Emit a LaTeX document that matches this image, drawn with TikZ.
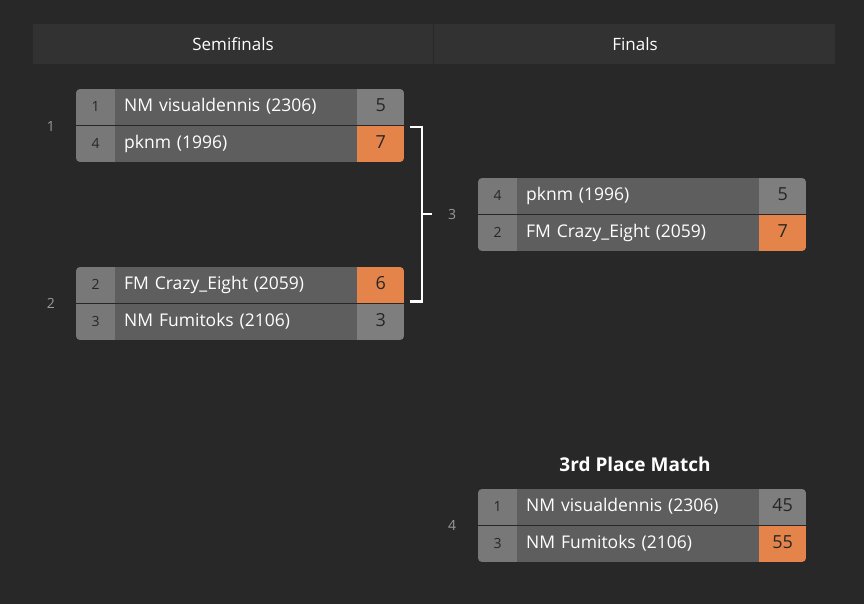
\documentclass[tikz,border=0pt]{standalone}
\usepackage{fontspec}
\setmainfont{Open Sans}
\definecolor{bg}{HTML}{282828}
\definecolor{hdr}{HTML}{323232}
\definecolor{seedc}{HTML}{787878}
\definecolor{namec}{HTML}{5E5E5E}
\definecolor{scorec}{HTML}{7E7E7E}
\definecolor{win}{HTML}{E5844A}
\definecolor{lbl}{HTML}{9A9A9A}
\tikzset{
 cell/.style={draw=none,inner sep=0pt,minimum height=36pt,anchor=north west,text height=13pt,text depth=4pt},
 seed/.style={cell,fill=seedc,minimum width=39pt,text=black!85,font=\fontsize{14}{14}\selectfont},
 pname/.style={cell,fill=namec,minimum width=242pt,text=white,align=left,text width=224pt,font=\fontsize{17.5}{18}\selectfont},
 score/.style={cell,fill=scorec,minimum width=47pt,text=black!85,font=\fontsize{18}{18}\selectfont},
 mlabel/.style={text=lbl,font=\fontsize{14}{14}\selectfont},
 hdrt/.style={text=white,font=\fontsize{17}{17}\selectfont}
}
% #1 prefix #2 origin #3 seed #4 name #5 score, #6-#8 second row, #9 winning row (1/2)
\newcommand\mybox[9]{%
 \begin{scope}[shift={(#2)}]
 \clip[rounded corners=4pt] (0,0) rectangle (328,73);
 \ifnum#9=1 \def\wa{win}\def\wb{scorec}\else\def\wa{scorec}\def\wb{win}\fi
 \node[seed] (#1s1) at (0,0) {#3};
 \node[pname] (#1n1) at (39,0) {#4};
 \node[score,fill=\wa] (#1c1) at (281,0) {#5};
 \node[seed] (#1s2) at (0,37) {#6};
 \node[pname] (#1n2) at (39,37) {#7};
 \node[score,fill=\wb] (#1c2) at (281,37) {#8};
 \end{scope}}
\begin{document}
\begin{tikzpicture}[x=1pt,y=-1pt]
\fill[bg] (0,0) rectangle (864,604);
\useasboundingbox (0,0) rectangle (864,604);
\fill[hdr] (33,24) rectangle (835,64);
\draw[bg,line width=1pt] (433,24) -- (433,64);
\node[hdrt] (h1) at (233,44) {Semifinals};
\node[hdrt] (h2) at (635,44) {Finals};
\mybox{a}{76,89}{1}{NM visualdennis (2306)}{5}{4}{pknm (1996)}{7}{2}
\mybox{b}{76,267}{2}{FM Crazy\_Eight (2059)}{6}{3}{NM Fumitoks (2106)}{3}{1}
\mybox{f}{478,178}{4}{pknm (1996)}{5}{2}{FM Crazy\_Eight (2059)}{7}{2}
\mybox{t}{478,489}{1}{NM visualdennis (2306)}{45}{3}{NM Fumitoks (2106)}{55}{2}
\node[mlabel] (l1) at (51,127) {1};
\node[mlabel] (l2) at (51,303) {2};
\node[mlabel] (l3) at (452,214) {3};
\node[mlabel] (l4) at (452,525) {4};
\node[text=white,font=\fontsize{19}{19}\selectfont\bfseries] (tt) at (635,464) {3rd Place Match};
\coordinate (j) at (432,214);
\draw[white,line width=2.5pt] ([xshift=6pt,yshift=-1pt]ac2.north east) -| (422,214) |- ([xshift=6pt,yshift=2pt]bc1.south east);
\draw[white,line width=2.5pt] (422,214) -- (j);
\end{tikzpicture}
\end{document}
